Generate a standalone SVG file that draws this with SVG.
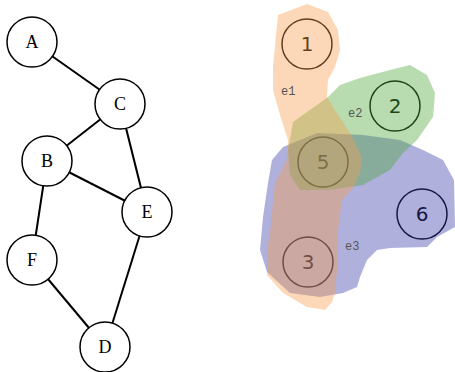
<svg xmlns="http://www.w3.org/2000/svg" width="455" height="372" viewBox="0 0 455 372">
<style>
.n circle{fill:#fff;stroke:#000;stroke-width:1.5}
.n text{font-family:"Liberation Serif","Times New Roman",serif;font-size:18px;text-anchor:middle;dominant-baseline:central;fill:#000}
.e line{stroke:#000;stroke-width:2}
.h circle{fill:none;stroke:#000;stroke-width:1.5}
.h text{font-family:"DejaVu Sans",sans-serif;font-size:20px;text-anchor:middle;dominant-baseline:central;fill:#000}
.hull{opacity:0.4}
.lbl{font-family:"Liberation Mono",monospace;font-size:12px;fill:#555}
</style>
<g id="edges" class="e">
<line x1="32" y1="42" x2="120" y2="104"/>
<line x1="120" y1="104" x2="47" y2="161"/>
<line x1="120" y1="104" x2="147" y2="212"/>
<line x1="47" y1="161" x2="147" y2="212"/>
<line x1="47" y1="161" x2="32" y2="260"/>
<line x1="32" y1="260" x2="105" y2="347"/>
<line x1="147" y1="212" x2="105" y2="347"/>
</g>
<g id="A" class="n"><circle cx="32" cy="42" r="25"/><text x="32" y="42">A</text></g>
<g id="C" class="n"><circle cx="120" cy="104" r="25"/><text x="120" y="104">C</text></g>
<g id="B" class="n"><circle cx="47" cy="161" r="25"/><text x="47" y="161">B</text></g>
<g id="E" class="n"><circle cx="147" cy="212" r="25"/><text x="147" y="212">E</text></g>
<g id="F" class="n"><circle cx="32" cy="260" r="25"/><text x="32" y="260">F</text></g>
<g id="D" class="n"><circle cx="105" cy="347" r="25"/><text x="105" y="347">D</text></g>
<g id="v1" class="h"><circle cx="307" cy="44" r="25"/><text x="307" y="44">1</text></g>
<g id="v2" class="h"><circle cx="395" cy="106" r="25"/><text x="395" y="106">2</text></g>
<g id="v5" class="h"><circle cx="323" cy="162" r="25"/><text x="323" y="162">5</text></g>
<g id="v6" class="h"><circle cx="422" cy="214" r="25"/><text x="422" y="214">6</text></g>
<g id="v3" class="h"><circle cx="308" cy="262" r="25"/><text x="308" y="262">3</text></g>
<g id="hulls">
<path id="e3" class="hull" fill="#3939a7" d="M272,160 L283,147 L317,133 L363,135 L400,140 L423,150 L443,160 L454,180 L455,227 L437,237 L427,247 L390,248 L377,250 L367,260 L360,277 L357,287 L343,293 L320,297 L290,293 L267,272 L260,250 L263,217 L268,183 Z"/>
<path id="e2" class="hull" fill="#4ea739" d="M328,97 L340,85 L360,78 L390,70 L410,65 L427,75 L435,93 L433,117 L417,140 L403,153 L390,170 L363,185 L330,190 L300,190 L290,175 L288,150 L293,122 Z"/>
<path id="e1" class="hull" fill="#f79d4d" d="M307,4 L328,12 L338,30 L340,50 L335,67 L328,80 L327,97 L335,110 L350,133 L362,157 L360,173 L353,188 L342,200 L338,230 L338,260 L335,293 L332,302 L325,310 L307,307 L283,293 L267,275 L267,250 L270,233 L275,183 L287,160 L288,140 L280,115 L273,90 L273,67 L276,35 L278,15 Z"/>
</g>
<text class="lbl" x="281" y="95">e1</text>
<text class="lbl" x="348" y="117">e2</text>
<text class="lbl" x="345" y="250">e3</text>
</svg>
